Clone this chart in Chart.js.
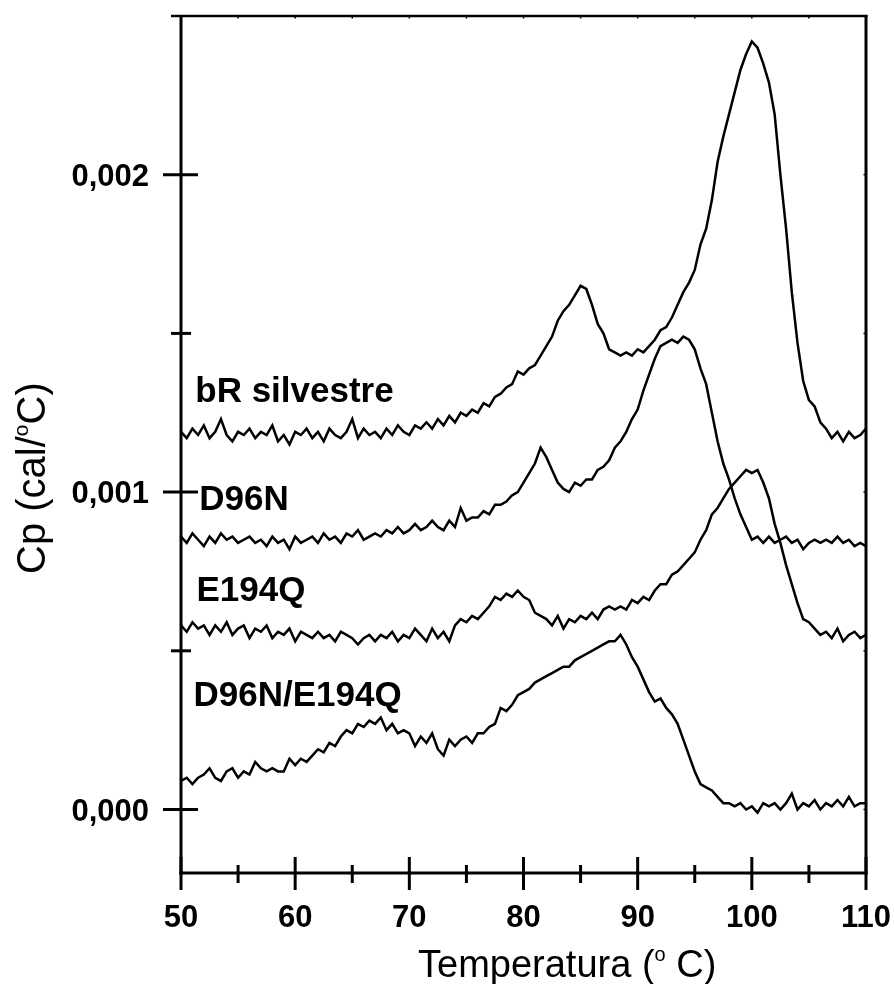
<!DOCTYPE html>
<html>
<head>
<meta charset="utf-8">
<script src="https://cdn.jsdelivr.net/npm/chart.js@4.4.1/dist/chart.umd.min.js"></script>
<style>
  html, body { margin: 0; padding: 0; background: #fff; }
  #wrap { width: 894px; height: 984px; }
</style>
</head>
<body>
<div id="wrap"><canvas id="dsc" width="894" height="984"></canvas></div>
<script>
// Temperature grid of the scans (ºC)
const temperature = [
  50, 50.5, 51, 51.5, 52, 52.5, 53, 53.5, 54, 54.5,
  55, 55.5, 56, 56.5, 57, 57.5, 58, 58.5, 59, 59.5,
  60, 60.5, 61, 61.5, 62, 62.5, 63, 63.5, 64, 64.5,
  65, 65.5, 66, 66.5, 67, 67.5, 68, 68.5, 69, 69.5,
  70, 70.5, 71, 71.5, 72, 72.5, 73, 73.5, 74, 74.5,
  75, 75.5, 76, 76.5, 77, 77.5, 78, 78.5, 79, 79.5,
  80, 80.5, 81, 81.5, 82, 82.5, 83, 83.5, 84, 84.5,
  85, 85.5, 86, 86.5, 87, 87.5, 88, 88.5, 89, 89.5,
  90, 90.5, 91, 91.5, 92, 92.5, 93, 93.5, 94, 94.5,
  95, 95.5, 96, 96.5, 97, 97.5, 98, 98.5, 99, 99.5,
  100, 100.5, 101, 101.5, 102, 102.5, 103, 103.5, 104, 104.5,
  105, 105.5, 106, 106.5, 107, 107.5, 108, 108.5, 109, 109.5,
  110
];

// Heat capacity traces, in mcal/ºC (offset per sample as plotted)
const cpWildType = [
  1.19, 1.17, 1.20, 1.18, 1.21, 1.17, 1.19, 1.23, 1.18, 1.16,
  1.19, 1.18, 1.20, 1.17, 1.19, 1.18, 1.21, 1.16, 1.18, 1.15,
  1.19, 1.18, 1.20, 1.17, 1.19, 1.16, 1.20, 1.18, 1.17, 1.19,
  1.23, 1.17, 1.20, 1.18, 1.19, 1.17, 1.20, 1.18, 1.21, 1.19,
  1.18, 1.21, 1.20, 1.22, 1.20, 1.23, 1.21, 1.24, 1.22, 1.25,
  1.24, 1.26, 1.25, 1.28, 1.27, 1.30, 1.31, 1.33, 1.34, 1.38,
  1.37, 1.39, 1.40, 1.43, 1.46, 1.49, 1.54, 1.57, 1.59, 1.62,
  1.65, 1.64, 1.59, 1.53, 1.50, 1.45, 1.44, 1.43, 1.44, 1.43,
  1.45, 1.44, 1.46, 1.48, 1.51, 1.52, 1.55, 1.59, 1.63, 1.66,
  1.70, 1.78, 1.83, 1.92, 2.04, 2.12, 2.19, 2.26, 2.33, 2.38,
  2.42, 2.40, 2.35, 2.29, 2.19, 2.00, 1.83, 1.63, 1.47, 1.35,
  1.29, 1.27, 1.22, 1.20, 1.17, 1.19, 1.16, 1.19, 1.17, 1.18,
  1.20
];

const cpD96N = [
  0.86, 0.84, 0.87, 0.85, 0.83, 0.86, 0.84, 0.87, 0.85, 0.86,
  0.84, 0.85, 0.86, 0.84, 0.85, 0.83, 0.86, 0.84, 0.85, 0.82,
  0.86, 0.84, 0.85, 0.86, 0.84, 0.87, 0.85, 0.86, 0.84, 0.87,
  0.86, 0.88, 0.85, 0.86, 0.87, 0.86, 0.88, 0.87, 0.89, 0.87,
  0.88, 0.90, 0.88, 0.89, 0.91, 0.89, 0.88, 0.91, 0.89, 0.95,
  0.91, 0.92, 0.92, 0.94, 0.93, 0.96, 0.96, 0.97, 0.99, 1.00,
  1.03, 1.06, 1.09, 1.14, 1.11, 1.07, 1.03, 1.01, 1.00, 1.03,
  1.02, 1.04, 1.04, 1.07, 1.08, 1.10, 1.14, 1.16, 1.19, 1.23,
  1.26, 1.32, 1.37, 1.42, 1.46, 1.47, 1.48, 1.47, 1.49, 1.48,
  1.45, 1.39, 1.34, 1.25, 1.16, 1.09, 1.04, 0.98, 0.93, 0.89,
  0.85, 0.86, 0.84, 0.86, 0.84, 0.85, 0.86, 0.84, 0.85, 0.82,
  0.84, 0.85, 0.84, 0.85, 0.84, 0.86, 0.84, 0.85, 0.83, 0.84,
  0.83
];

const cpE194Q = [
  0.58, 0.56, 0.59, 0.57, 0.58, 0.55, 0.58, 0.56, 0.59, 0.55,
  0.57, 0.58, 0.54, 0.57, 0.56, 0.58, 0.54, 0.56, 0.55, 0.57,
  0.53, 0.56, 0.55, 0.54, 0.56, 0.54, 0.55, 0.53, 0.56, 0.55,
  0.54, 0.52, 0.54, 0.55, 0.53, 0.55, 0.54, 0.56, 0.53, 0.55,
  0.54, 0.57, 0.55, 0.53, 0.57, 0.54, 0.56, 0.53, 0.58, 0.60,
  0.59, 0.61, 0.60, 0.62, 0.64, 0.67, 0.66, 0.68, 0.67, 0.69,
  0.67, 0.66, 0.62, 0.61, 0.60, 0.58, 0.61, 0.57, 0.60, 0.59,
  0.61, 0.60, 0.62, 0.60, 0.63, 0.64, 0.63, 0.64, 0.63, 0.66,
  0.65, 0.67, 0.66, 0.69, 0.71, 0.71, 0.74, 0.75, 0.77, 0.79,
  0.81, 0.85, 0.88, 0.93, 0.95, 0.98, 1.01, 1.03, 1.05, 1.07,
  1.06, 1.07, 1.03, 0.98, 0.90, 0.84, 0.77, 0.71, 0.65, 0.60,
  0.59, 0.57, 0.55, 0.56, 0.54, 0.57, 0.53, 0.55, 0.56, 0.54,
  0.55
];

const cpDouble = [
  0.09, 0.10, 0.08, 0.10, 0.11, 0.13, 0.10, 0.09, 0.12, 0.13,
  0.10, 0.12, 0.11, 0.15, 0.13, 0.12, 0.13, 0.12, 0.12, 0.16,
  0.14, 0.16, 0.15, 0.17, 0.19, 0.18, 0.21, 0.20, 0.23, 0.25,
  0.24, 0.27, 0.26, 0.28, 0.27, 0.29, 0.25, 0.27, 0.24, 0.25,
  0.24, 0.20, 0.23, 0.21, 0.24, 0.19, 0.17, 0.22, 0.20, 0.22,
  0.23, 0.21, 0.24, 0.24, 0.26, 0.27, 0.32, 0.31, 0.33, 0.36,
  0.37, 0.38, 0.40, 0.41, 0.42, 0.43, 0.44, 0.45, 0.45, 0.47,
  0.48, 0.49, 0.50, 0.51, 0.52, 0.53, 0.53, 0.55, 0.52, 0.48,
  0.45, 0.41, 0.37, 0.34, 0.35, 0.32, 0.30, 0.27, 0.22, 0.17,
  0.12, 0.08, 0.07, 0.06, 0.04, 0.02, 0.02, 0.01, 0.02, 0.00,
  0.01, -0.01, 0.02, 0.01, 0.02, 0.00, 0.02, 0.05, 0.00, 0.02,
  0.01, 0.03, 0.00, 0.02, 0.01, 0.03, 0.01, 0.04, 0.01, 0.02,
  0.02
];

const seriesNames = ['bR silvestre', 'D96N', 'E194Q', 'D96N/E194Q'];
const seriesValues = [cpWildType, cpD96N, cpE194Q, cpDouble];

// Axis ticks (ºC and cal/ºC); empty label = minor tick
const xTickValues = [50, 55, 60, 65, 70, 75, 80, 85, 90, 95, 100, 105, 110];
const xTickLabels = ['50', '', '60', '', '70', '', '80', '', '90', '', '100', '', '110'];
const yTickValues = [0, 0.0005, 0.001, 0.0015, 0.002];
const yTickLabels = ['0,000', '', '0,001', '', '0,002'];

// Where each trace name is written (ºC, cal/ºC of the text baseline start)
const nameAnchors = [[51.25, 0.001283], [51.6, 0.000943], [51.35, 0.000657], [51.1, 0.000327]];

const MCAL = 0.001;
const FONT = '"Liberation Sans", Arial, Helvetica, sans-serif';

const datasets = seriesValues.map((vals, i) => ({
  label: seriesNames[i],
  data: temperature.map((t, j) => ({ x: t, y: vals[j] * MCAL })),
  borderColor: '#000',
  borderWidth: 2.5,
  pointRadius: 0,
  tension: 0,
  fill: false
}));

// Draws a superscript-o title: before + small raised "o" + after
function drawDegreeText(ctx, before, after, x, y, size) {
  ctx.font = size + 'px ' + FONT;
  ctx.textAlign = 'left';
  ctx.textBaseline = 'alphabetic';
  ctx.fillText(before, x, y);
  let cx = x + ctx.measureText(before).width;
  const small = Math.round(size * 0.53);
  ctx.font = small + 'px ' + FONT;
  ctx.fillText('o', cx, y - size * 0.42);
  cx += ctx.measureText('o').width;
  ctx.font = size + 'px ' + FONT;
  ctx.fillText(after, cx, y);
}

const axesFrame = {
  id: 'axesFrame',
  afterDraw(chart) {
    const { ctx, chartArea: a, scales: { x, y } } = chart;
    ctx.save();
    ctx.strokeStyle = '#000';
    ctx.fillStyle = '#000';
    const seg = (x1, y1, x2, y2, w) => {
      ctx.lineWidth = w;
      ctx.beginPath();
      ctx.moveTo(x1, y1);
      ctx.lineTo(x2, y2);
      ctx.stroke();
    };

    // box
    seg(a.left - 10, a.top, a.right + 1.5, a.top, 2.5);
    seg(a.left, a.top - 1, a.left, a.bottom + 1.5, 3);
    seg(a.left - 1.5, a.bottom, a.right + 1.5, a.bottom, 3);
    seg(a.right, a.top - 1, a.right, a.bottom + 1.5, 3);

    // x ticks and labels
    ctx.font = 'bold 31px ' + FONT;
    ctx.textAlign = 'center';
    ctx.textBaseline = 'alphabetic';
    xTickValues.forEach((v, i) => {
      const px = x.getPixelForValue(v);
      const major = xTickLabels[i] !== '';
      seg(px, a.bottom - (major ? 16 : 8), px, a.bottom + (major ? 17 : 10), 3);
      seg(px, a.top, px, a.top + 2.5, 1.5);
      if (major) ctx.fillText(xTickLabels[i], px, a.bottom + 54);
    });

    // y ticks and labels
    ctx.textAlign = 'right';
    yTickValues.forEach((v, i) => {
      const py = y.getPixelForValue(v);
      const major = yTickLabels[i] !== '';
      seg(a.left - (major ? 18 : 10), py, a.left + (major ? 17 : 10), py, 3);
      seg(a.right - 2.5, py, a.right, py, 1.5);
      if (major) ctx.fillText(yTickLabels[i], a.left - 32, py + 11);
    });

    // axis titles
    drawDegreeText(ctx, 'Temperatura (', ' C)', 418, 977, 38);
    ctx.save();
    ctx.translate(45, 574);
    ctx.rotate(-Math.PI / 2);
    drawDegreeText(ctx, 'Cp (cal/', 'C)', 0, 0, 40);
    ctx.restore();

    // trace names
    ctx.font = 'bold 35px ' + FONT;
    ctx.textAlign = 'left';
    ctx.textBaseline = 'alphabetic';
    seriesNames.forEach((name, i) => {
      const [t, v] = nameAnchors[i];
      ctx.fillText(name, x.getPixelForValue(t), y.getPixelForValue(v));
    });
    ctx.restore();
  }
};

new Chart(document.getElementById('dsc'), {
  type: 'line',
  data: { datasets },
  options: {
    responsive: false,
    animation: false,
    devicePixelRatio: 1,
    events: [],
    layout: { padding: { left: 181, right: 28, top: 16, bottom: 111 } },
    plugins: { legend: { display: false }, tooltip: { enabled: false } },
    scales: {
      x: { type: 'linear', min: 50, max: 110, display: false },
      y: { type: 'linear', min: -0.0002, max: 0.0025, display: false }
    }
  },
  plugins: [axesFrame]
});
</script>
</body>
</html>
